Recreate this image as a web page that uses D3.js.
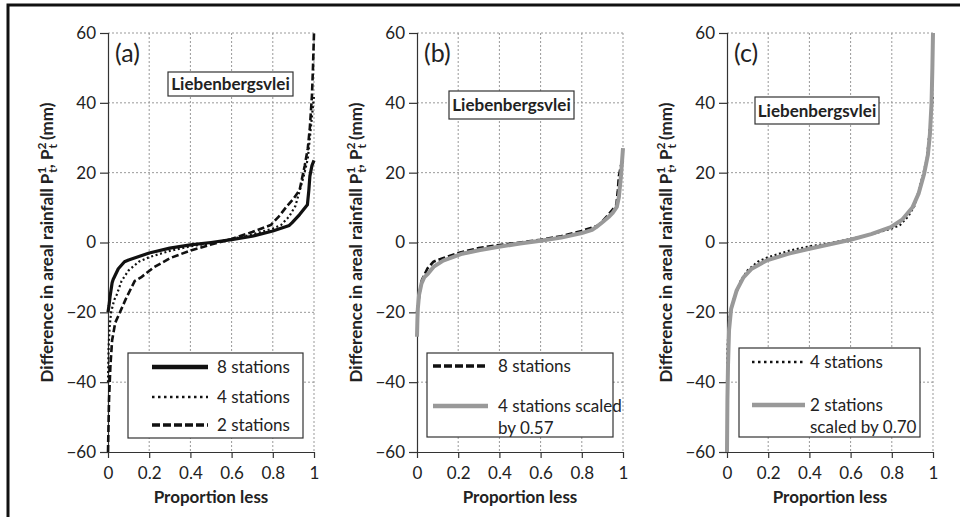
<!DOCTYPE html>
<html>
<head>
<meta charset="utf-8">
<script src="https://cdn.jsdelivr.net/npm/d3@7"></script>
<style>
  html, body { margin: 0; padding: 0; background: #fff; }
  svg { display: block; }
  text { font-family: Lato, "Open Sans", sans-serif; fill: #222; }
</style>
</head>
<body>
<svg id="chart" width="960" height="517"></svg>
<script>
// ---------- data ----------
const xTickValues = [0, 0.2, 0.4, 0.6, 0.8, 1];
const xTickLabels = ["0", "0.2", "0.4", "0.6", "0.8", "1"];
const yTickValues = [-60, -40, -20, 0, 20, 40, 60];
const yTickLabels = ["\u221260", "\u221240", "\u221220", "0", "20", "40", "60"];

const siteName = "Liebenbergsvlei";
const panelLabels = ["(a)", "(b)", "(c)"];

// 8 stations
const eightX = [0, 0.005, 0.01, 0.02, 0.025, 0.05, 0.08, 0.1, 0.15, 0.2, 0.3, 0.4, 0.5, 0.6, 0.7, 0.8, 0.88, 0.894, 0.93, 0.968, 0.975, 0.98, 0.99, 1];
const eightY = [-20, -18, -15.5, -11.5, -10.6, -7.5, -5.5, -5, -4, -3, -1.6, -0.7, 0, 0.8, 1.8, 3.3, 4.9, 5.7, 8, 10.8, 15, 19, 22, 23.5];

// 4 stations
const fourX = [0, 0.003, 0.008, 0.015, 0.03, 0.042, 0.066, 0.1, 0.15, 0.2, 0.3, 0.4, 0.5, 0.6, 0.7, 0.8, 0.84, 0.88, 0.91, 0.95, 0.97, 0.98, 0.99, 1];
const fourY = [-40, -30, -24, -20, -16.5, -15, -11, -8, -5.5, -4.2, -2.4, -1.1, -0.2, 1, 2.3, 4, 5, 7.5, 10.5, 19, 24, 30, 36, 42];

// 2 stations
const twoX = [0, 0.005, 0.012, 0.02, 0.035, 0.058, 0.09, 0.13, 0.16, 0.22, 0.3, 0.4, 0.5, 0.6, 0.7, 0.79, 0.83, 0.87, 0.9, 0.93, 0.955, 0.97, 0.98, 0.99, 0.995, 1];
const twoY = [-60, -45, -35, -28, -23, -20, -15.7, -11, -10, -7.2, -4.5, -2.3, -0.6, 1, 3, 5, 7.5, 10.5, 12.5, 15, 22, 27, 33, 42, 50, 60];

// 4 stations scaled by 0.57
const fourScaledX = [0, 0.002, 0.004, 0.01, 0.022, 0.035, 0.054, 0.08, 0.127, 0.22, 0.3, 0.39, 0.5, 0.6, 0.7, 0.8, 0.85, 0.87, 0.9, 0.93, 0.95, 0.97, 0.98, 0.99, 1];
const fourScaledY = [-27, -22, -19, -15, -11.7, -10, -8.9, -7, -5.2, -3.2, -2.2, -1.3, -0.3, 0.5, 1.4, 2.7, 3.6, 4.4, 5.8, 7.3, 8.5, 10.2, 13, 19, 27];

// 2 stations scaled by 0.70
const twoScaledX = [0, 0.002, 0.005, 0.01, 0.02, 0.047, 0.08, 0.12, 0.19, 0.3, 0.4, 0.5, 0.6, 0.7, 0.795, 0.85, 0.9, 0.93, 0.957, 0.975, 0.985, 0.993, 0.997, 1];
const twoScaledY = [-60, -45, -35, -25, -19, -13.7, -10, -7.5, -5.2, -3.2, -1.8, -0.5, 0.8, 2.4, 4.4, 6.5, 10, 14, 19.7, 25, 31, 40, 50, 60];

// ---------- helpers ----------
const zip = (xs, ys) => xs.map((x, i) => ({ x, y: ys[i] }));

const styles = {
  solid:  { stroke: "#111", width: 3.2, dash: null },
  dotted: { stroke: "#111", width: 2.2, dash: "2,2.6" },
  dashed: { stroke: "#111", width: 2.6, dash: "7,3" },
  grey:   { stroke: "#999", width: 4, dash: null }
};

const panels = [
  {
    left: 108, label: panelLabels[0],
    titleBox: { x: 168, y: 72, w: 125, h: 24 },
    series: [
      { data: zip(twoX, twoY), style: "dashed" },
      { data: zip(fourX, fourY), style: "dotted" },
      { data: zip(eightX, eightY), style: "solid" }
    ],
    legendBox: { x: 128, y: 353, w: 175, h: 85 },
    legend: [
      { style: "solid", ly: 367, lines: ["8 stations"] },
      { style: "dotted", ly: 397, lines: ["4 stations"] },
      { style: "dashed", ly: 425, lines: ["2 stations"] }
    ],
    lx1: 152, lx2: 208, tx: 217
  },
  {
    left: 417, label: panelLabels[1],
    titleBox: { x: 449, y: 91, w: 125, h: 28 },
    series: [
      { data: zip(eightX, eightY), style: "dashed" },
      { data: zip(fourScaledX, fourScaledY), style: "grey" }
    ],
    legendBox: { x: 427, y: 353, w: 186, h: 84 },
    legend: [
      { style: "dashed", ly: 366, lines: ["8 stations"] },
      { style: "grey", ly: 406, lines: ["4 stations scaled", "by 0.57"] }
    ],
    lx1: 433, lx2: 488, tx: 498
  },
  {
    left: 727, label: panelLabels[2],
    titleBox: { x: 755, y: 97, w: 124, h: 27 },
    series: [
      { data: zip(fourX, fourY), style: "dotted" },
      { data: zip(twoScaledX, twoScaledY), style: "grey" }
    ],
    legendBox: { x: 739, y: 348, w: 181, h: 89 },
    legend: [
      { style: "dotted", ly: 362, lines: ["4 stations"] },
      { style: "grey", ly: 405, lines: ["2 stations", "scaled by 0.70"] }
    ],
    lx1: 752, lx2: 805, tx: 810
  }
];

const plotW = 206, plotTop = 33, plotBottom = 452;

const svg = d3.select("#chart");

// outer frame (cropped on the right and bottom)
svg.append("rect")
  .attr("x", 8).attr("y", 5).attr("width", 980).attr("height", 540)
  .attr("fill", "none").attr("stroke", "#111").attr("stroke-width", 3);

panels.forEach(p => {
  const x = d3.scaleLinear().domain([0, 1]).range([p.left, p.left + plotW]);
  const y = d3.scaleLinear().domain([-60, 60]).range([plotBottom, plotTop]);
  const g = svg.append("g");

  // grid
  const grid = g.append("g");
  grid.selectAll("line.gx").data(xTickValues.filter(v => v > 0)).join("line")
    .attr("x1", d => x(d)).attr("x2", d => x(d))
    .attr("y1", plotTop).attr("y2", plotBottom)
    .attr("stroke", "#999").attr("stroke-width", 1).attr("stroke-dasharray", "2,2");
  grid.selectAll("line.gy").data(yTickValues.filter(v => v > -60)).join("line")
    .attr("x1", p.left).attr("x2", p.left + plotW)
    .attr("y1", d => y(d)).attr("y2", d => y(d))
    .attr("stroke", "#999").attr("stroke-width", 1).attr("stroke-dasharray", "2,2");

  // axes
  const yAxis = d3.axisLeft(y).tickValues(yTickValues)
    .tickFormat((d, i) => yTickLabels[i]).tickSize(8).tickPadding(4);
  const gy = g.append("g").attr("transform", `translate(${p.left},0)`).call(yAxis);
  const xAxis = d3.axisBottom(x).tickValues(xTickValues)
    .tickFormat((d, i) => xTickLabels[i]).tickSize(6).tickPadding(9);
  const gx = g.append("g").attr("transform", `translate(0,${plotBottom})`).call(xAxis);
  [gx, gy].forEach(a => {
    a.select(".domain").attr("stroke", "#333").attr("stroke-width", 1.2);
    a.selectAll(".tick line").attr("stroke", "#333").attr("stroke-width", 1.2);
    a.selectAll(".tick text").attr("font-size", 17).attr("fill", "#222")
      .attr("font-family", "Lato, sans-serif");
  });
  gx.select(".domain").attr("d", `M${p.left},0.5H${p.left + plotW}`);
  gy.select(".domain").attr("d", `M0.5,${plotTop}V${plotBottom}`);

  // series
  const line = d3.line().x(d => x(d.x)).y(d => y(d.y)).curve(d3.curveLinear);
  p.series.forEach(s => {
    const st = styles[s.style];
    g.append("path").datum(s.data)
      .attr("d", line)
      .attr("fill", "none")
      .attr("stroke", st.stroke)
      .attr("stroke-width", st.width)
      .attr("stroke-dasharray", st.dash)
      .attr("stroke-linejoin", "round");
  });

  // panel label
  g.append("text").attr("x", p.left + 7).attr("y", 62)
    .attr("font-size", 25).text(p.label);

  // site title box
  const tb = p.titleBox;
  g.append("rect").attr("x", tb.x).attr("y", tb.y).attr("width", tb.w).attr("height", tb.h)
    .attr("fill", "#fff").attr("stroke", "#333").attr("stroke-width", 1.2);
  g.append("text").attr("x", tb.x + tb.w / 2).attr("y", tb.y + tb.h / 2 + 6)
    .attr("text-anchor", "middle").attr("font-size", 17).attr("font-weight", "bold")
    .text(siteName);

  // legend
  const lb = p.legendBox;
  g.append("rect").attr("x", lb.x).attr("y", lb.y).attr("width", lb.w).attr("height", lb.h)
    .attr("fill", "#fff").attr("stroke", "#333").attr("stroke-width", 1.2);
  p.legend.forEach(item => {
    const st = styles[item.style];
    g.append("line").attr("x1", p.lx1).attr("x2", p.lx2)
      .attr("y1", item.ly).attr("y2", item.ly)
      .attr("stroke", st.stroke)
      .attr("stroke-width", item.style === "solid" ? 4.5 : (item.style === "grey" ? 4.5 : (item.style === "dashed" ? 3.4 : 2.6)))
      .attr("stroke-dasharray", item.style === "dashed" ? "8,3" : (item.style === "dotted" ? "2.5,3.5" : null));
    item.lines.forEach((t, i) => {
      g.append("text").attr("x", p.tx).attr("y", item.ly + 6 + i * 22)
        .attr("font-size", 17).text(t);
    });
  });

  // x-axis title
  g.append("text").attr("x", p.left + plotW / 2).attr("y", 503)
    .attr("text-anchor", "middle").attr("font-size", 17).attr("font-weight", "bold")
    .text("Proportion less");

  // y-axis title with super/subscripts
  const yt = g.append("text")
    .attr("transform", `translate(${p.left - 55},${(plotTop + plotBottom) / 2}) rotate(-90)`)
    .attr("text-anchor", "middle").attr("font-size", 17).attr("font-weight", "bold");
  yt.append("tspan").text("Difference in areal rainfall P");
  yt.append("tspan").attr("font-size", 12).attr("dy", -7).text("1");
  yt.append("tspan").attr("font-size", 12).attr("dx", -6).attr("dy", 11).text("t");
  yt.append("tspan").attr("dy", -4).text(", P");
  yt.append("tspan").attr("font-size", 12).attr("dy", -7).text("2");
  yt.append("tspan").attr("font-size", 12).attr("dx", -6).attr("dy", 11).text("t");
  yt.append("tspan").attr("dy", -4).text(" (mm)");
});
</script>
</body>
</html>
